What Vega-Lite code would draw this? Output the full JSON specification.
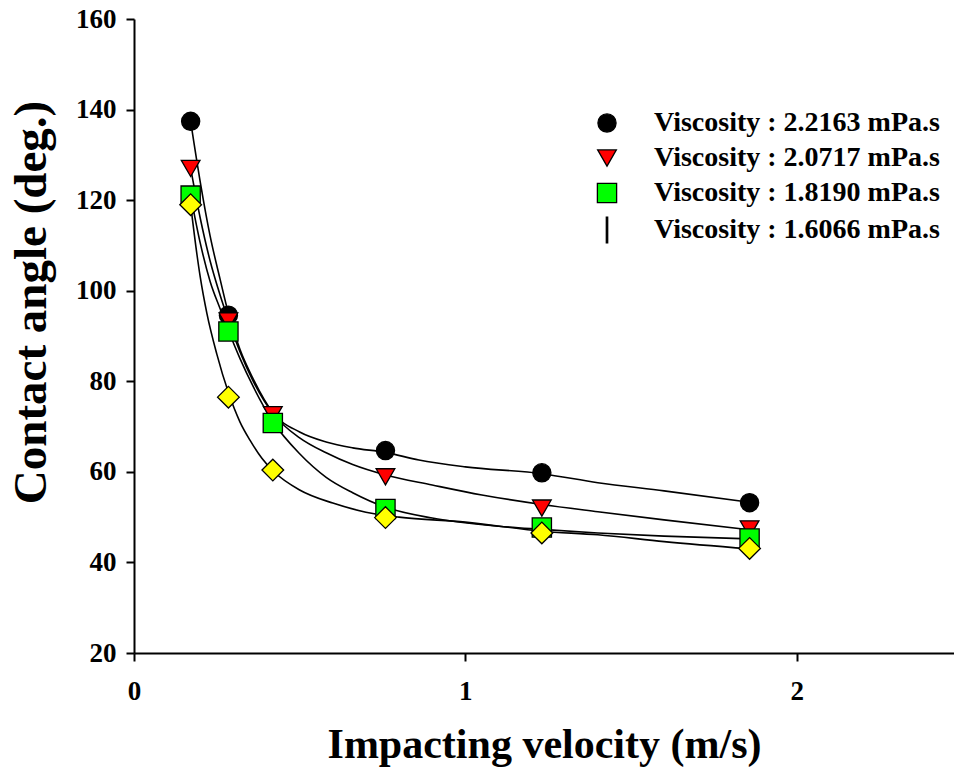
{
  "$schema": "https://vega.github.io/schema/vega-lite/v6.json",
  "width": 820,
  "height": 634,
  "autosize": {"type": "none"},
  "padding": {"left": 134, "top": 19, "right": 0, "bottom": 120},
  "background": "white",
  "config": {
    "view": {"stroke": null},
    "font": "Liberation Serif",
    "axis": {
      "labelFont": "Liberation Serif", "labelFontWeight": "bold", "labelFontSize": 27, "labelColor": "black",
      "titleFont": "Liberation Serif", "titleFontWeight": "bold", "titleFontSize": 42, "titleColor": "black",
      "domainColor": "black", "domainWidth": 2, "tickColor": "black", "tickWidth": 2, "tickSize": 8, "grid": false
    },
    "legend": {
      "orient": "none", "legendX": 459, "legendY": 90, "padding": 0,
      "labelFont": "Liberation Serif", "labelFontWeight": "bold", "labelFontSize": 28, "labelColor": "black",
      "labelOffset": 33, "rowPadding": 7, "labelLimit": 0, "symbolStrokeWidth": 1.3
    }
  },
  "datasets": {
    "points": [
      {"series": "Viscosity : 2.2163 mPa.s", "v": 0.171, "angle": 137.4},
      {"series": "Viscosity : 2.2163 mPa.s", "v": 0.285, "angle": 94.6},
      {"series": "Viscosity : 2.2163 mPa.s", "v": 0.759, "angle": 64.7},
      {"series": "Viscosity : 2.2163 mPa.s", "v": 1.231, "angle": 59.8},
      {"series": "Viscosity : 2.2163 mPa.s", "v": 1.858, "angle": 53.2},
      {"series": "Viscosity : 2.0717 mPa.s", "v": 0.171, "angle": 127.0},
      {"series": "Viscosity : 2.0717 mPa.s", "v": 0.285, "angle": 93.3},
      {"series": "Viscosity : 2.0717 mPa.s", "v": 0.419, "angle": 72.6},
      {"series": "Viscosity : 2.0717 mPa.s", "v": 0.759, "angle": 58.9},
      {"series": "Viscosity : 2.0717 mPa.s", "v": 1.231, "angle": 52.0},
      {"series": "Viscosity : 2.0717 mPa.s", "v": 1.858, "angle": 47.4},
      {"series": "Viscosity : 1.8190 mPa.s", "v": 0.171, "angle": 121.0},
      {"series": "Viscosity : 1.8190 mPa.s", "v": 0.285, "angle": 91.0},
      {"series": "Viscosity : 1.8190 mPa.s", "v": 0.419, "angle": 70.8},
      {"series": "Viscosity : 1.8190 mPa.s", "v": 0.759, "angle": 51.8},
      {"series": "Viscosity : 1.8190 mPa.s", "v": 1.231, "angle": 47.7},
      {"series": "Viscosity : 1.8190 mPa.s", "v": 1.858, "angle": 45.3},
      {"series": "Viscosity : 1.6066 mPa.s", "v": 0.171, "angle": 119.0},
      {"series": "Viscosity : 1.6066 mPa.s", "v": 0.285, "angle": 76.5},
      {"series": "Viscosity : 1.6066 mPa.s", "v": 0.419, "angle": 60.4},
      {"series": "Viscosity : 1.6066 mPa.s", "v": 0.759, "angle": 49.9},
      {"series": "Viscosity : 1.6066 mPa.s", "v": 1.231, "angle": 46.5},
      {"series": "Viscosity : 1.6066 mPa.s", "v": 1.858, "angle": 43.1}
    ],
    "curves": [
      {"s": "a", "v": 0.171, "angle": 137.4}, {"s": "a", "v": 0.2, "angle": 124}, {"s": "a", "v": 0.23, "angle": 112},
      {"s": "a", "v": 0.26, "angle": 102.5}, {"s": "a", "v": 0.285, "angle": 95}, {"s": "a", "v": 0.32, "angle": 87},
      {"s": "a", "v": 0.36, "angle": 80.5}, {"s": "a", "v": 0.42, "angle": 73}, {"s": "a", "v": 0.5, "angle": 68.8},
      {"s": "a", "v": 0.58, "angle": 66.6}, {"s": "a", "v": 0.66, "angle": 65.3}, {"s": "a", "v": 0.759, "angle": 64.3},
      {"s": "a", "v": 0.86, "angle": 62.6}, {"s": "a", "v": 1.0, "angle": 61.1}, {"s": "a", "v": 1.231, "angle": 59.6},
      {"s": "a", "v": 1.4, "angle": 57.6}, {"s": "a", "v": 1.6, "angle": 55.8}, {"s": "a", "v": 1.858, "angle": 53.3},
      {"s": "b", "v": 0.171, "angle": 127.0}, {"s": "b", "v": 0.2, "angle": 116}, {"s": "b", "v": 0.23, "angle": 106.5},
      {"s": "b", "v": 0.26, "angle": 99}, {"s": "b", "v": 0.285, "angle": 93.5}, {"s": "b", "v": 0.32, "angle": 86.5},
      {"s": "b", "v": 0.36, "angle": 80}, {"s": "b", "v": 0.42, "angle": 72.8}, {"s": "b", "v": 0.5, "angle": 67.5},
      {"s": "b", "v": 0.58, "angle": 64.2}, {"s": "b", "v": 0.66, "angle": 61.6}, {"s": "b", "v": 0.759, "angle": 59.3},
      {"s": "b", "v": 0.9, "angle": 57.1}, {"s": "b", "v": 1.05, "angle": 54.9}, {"s": "b", "v": 1.231, "angle": 52.8},
      {"s": "b", "v": 1.4, "angle": 51.2}, {"s": "b", "v": 1.6, "angle": 49.4}, {"s": "b", "v": 1.858, "angle": 47.2},
      {"s": "c", "v": 0.171, "angle": 121.0}, {"s": "c", "v": 0.2, "angle": 110.5}, {"s": "c", "v": 0.23, "angle": 102},
      {"s": "c", "v": 0.26, "angle": 96}, {"s": "c", "v": 0.285, "angle": 91.2}, {"s": "c", "v": 0.32, "angle": 85},
      {"s": "c", "v": 0.36, "angle": 78.8}, {"s": "c", "v": 0.42, "angle": 71}, {"s": "c", "v": 0.5, "angle": 64},
      {"s": "c", "v": 0.58, "angle": 58.8}, {"s": "c", "v": 0.66, "angle": 55.4}, {"s": "c", "v": 0.759, "angle": 52.2},
      {"s": "c", "v": 0.9, "angle": 49.8}, {"s": "c", "v": 1.1, "angle": 48}, {"s": "c", "v": 1.231, "angle": 47.3},
      {"s": "c", "v": 1.4, "angle": 46.5}, {"s": "c", "v": 1.6, "angle": 45.8}, {"s": "c", "v": 1.858, "angle": 45.2},
      {"s": "d", "v": 0.171, "angle": 119.0}, {"s": "d", "v": 0.19, "angle": 108}, {"s": "d", "v": 0.2, "angle": 103},
      {"s": "d", "v": 0.22, "angle": 95}, {"s": "d", "v": 0.25, "angle": 86}, {"s": "d", "v": 0.285, "angle": 77.5},
      {"s": "d", "v": 0.32, "angle": 71}, {"s": "d", "v": 0.35, "angle": 67}, {"s": "d", "v": 0.386, "angle": 63},
      {"s": "d", "v": 0.42, "angle": 60.2}, {"s": "d", "v": 0.5, "angle": 56}, {"s": "d", "v": 0.6, "angle": 53.1},
      {"s": "d", "v": 0.7, "angle": 51.1}, {"s": "d", "v": 0.8, "angle": 50}, {"s": "d", "v": 1.0, "angle": 48.9},
      {"s": "d", "v": 1.231, "angle": 46.9}, {"s": "d", "v": 1.4, "angle": 46.1}, {"s": "d", "v": 1.6, "angle": 44.6},
      {"s": "d", "v": 1.858, "angle": 43.0}
    ]
  },
  "layer": [
    {
      "data": {"name": "curves"},
      "mark": {"type": "line", "color": "black", "strokeWidth": 1.6, "interpolate": "monotone"},
      "encoding": {
        "x": {
          "field": "v", "type": "quantitative",
          "scale": {"domain": [0, 2.475], "nice": false, "zero": false},
          "axis": {"values": [0, 1, 2], "format": "d", "labelFlush": false, "labelPadding": 17, "titlePadding": 20, "title": "Impacting velocity (m/s)"}
        },
        "y": {
          "field": "angle", "type": "quantitative",
          "scale": {"domain": [20, 160], "nice": false, "zero": false},
          "axis": {"values": [20, 40, 60, 80, 100, 120, 140, 160], "labelPadding": 10, "titlePadding": 20, "titleFontSize": 47, "titleY": 283, "title": "Contact angle (deg.)"}
        },
        "detail": {"field": "s", "type": "nominal"}
      }
    },
    {
      "data": {"name": "points"},
      "transform": [{"filter": "datum.series !== 'Viscosity : 1.6066 mPa.s'"}],
      "mark": {"type": "point", "filled": true, "stroke": "black", "strokeWidth": 1.3, "opacity": 1},
      "encoding": {
        "x": {"field": "v", "type": "quantitative"},
        "y": {"field": "angle", "type": "quantitative"},
        "fill": {
          "field": "series", "type": "nominal",
          "scale": {
            "domain": ["Viscosity : 2.2163 mPa.s", "Viscosity : 2.0717 mPa.s", "Viscosity : 1.8190 mPa.s", "Viscosity : 1.6066 mPa.s"],
            "range": ["#000000", "#ff0000", "#00ff00", "#000000"]
          },
          "legend": {"title": null}
        },
        "shape": {
          "field": "series", "type": "nominal",
          "scale": {
            "domain": ["Viscosity : 2.2163 mPa.s", "Viscosity : 2.0717 mPa.s", "Viscosity : 1.8190 mPa.s", "Viscosity : 1.6066 mPa.s"],
            "range": ["circle", "triangle-down", "square", "M-0.07,-1.3H0.07V1.3H-0.07Z"]
          },
          "legend": {"title": null}
        },
        "size": {
          "field": "series", "type": "nominal",
          "scale": {
            "domain": ["Viscosity : 2.2163 mPa.s", "Viscosity : 2.0717 mPa.s", "Viscosity : 1.8190 mPa.s", "Viscosity : 1.6066 mPa.s"],
            "range": [330, 390, 270, 470]
          },
          "legend": {"title": null}
        }
      }
    },
    {
      "data": {"name": "points"},
      "transform": [{"filter": "datum.series === 'Viscosity : 1.6066 mPa.s'"}],
      "mark": {"type": "point", "shape": "diamond", "filled": true, "fill": "#ffff00", "stroke": "black", "strokeWidth": 1.3, "size": 470, "opacity": 1},
      "encoding": {
        "x": {"field": "v", "type": "quantitative"},
        "y": {"field": "angle", "type": "quantitative"}
      }
    },
    {
      "mark": {"type": "rule", "color": "black", "strokeWidth": 2},
      "encoding": {"y": {"datum": 160}}
    }
  ]
}
